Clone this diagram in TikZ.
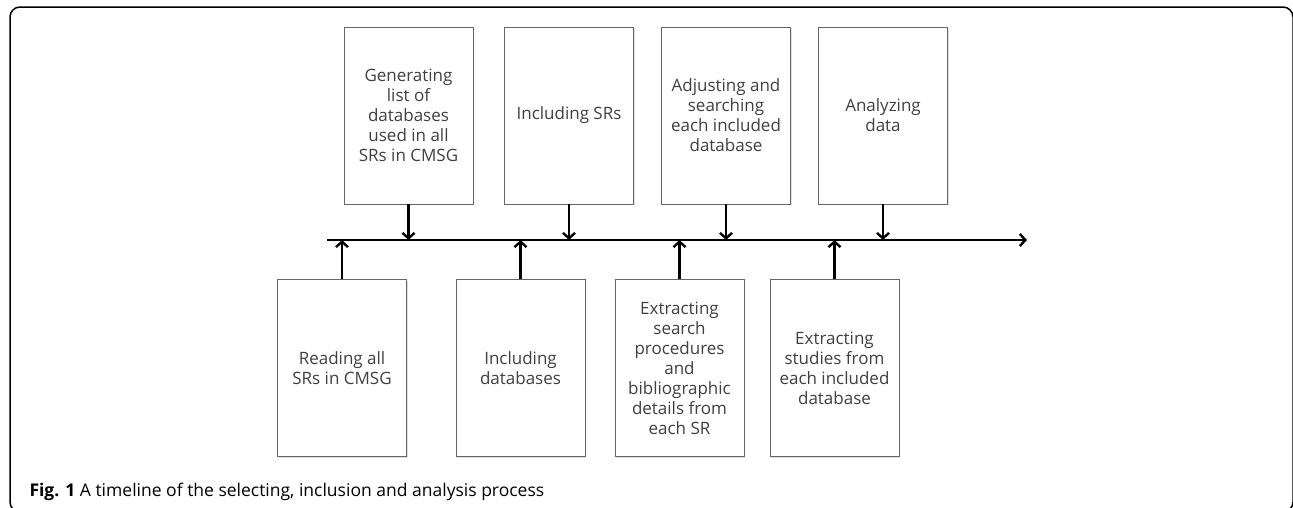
\documentclass[tikz,border=0pt]{standalone}
\usepackage{fontspec}
\setmainfont{Open Sans}
\usetikzlibrary{arrows.meta,shadows}
\tikzset{>={Straight Barb[length=5.5pt,width=12pt]}}
\tikzset{
  stage/.style={draw=black!60, fill=white, minimum width=129pt, minimum height=177pt,
    align=center, text=black!75, font=\fontsize{17}{20}\selectfont,
    drop shadow={opacity=0.25, shadow xshift=1pt, shadow yshift=-1pt}},
  tick/.style={->, line width=2.4pt}
}

\begin{document}
\begin{tikzpicture}[x=1pt,y=-1pt]
  \useasboundingbox (0,0) rectangle (1293,507);
  \clip (0,0) rectangle (1293,507);
  \draw[line width=1.5pt, rounded corners=10pt] (10,7) rectangle (1293,512);
  % the time line
  \coordinate (t0) at (327,240);
  \coordinate (t1) at (1027,240);
  \draw[tick] (t0) -- (t1);
  % steps above the line
  \node[stage] (gen) at (408.5,115.5) {Generating\\list of\\databases\\used in all\\SRs in CMSG};
  \node[stage] (incsr) at (569,115.5) {Including SRs};
  \node[stage] (adj) at (726,115.5) {Adjusting and\\searching\\each included\\database};
  \node[stage] (ana) at (883,115.5) {Analyzing\\data};
  % steps below the line
  \node[stage] (read) at (342,368) {Reading all\\SRs in CMSG};
  \node[stage] (incdb) at (520.5,368) {Including\\databases};
  \node[stage] (extsr) at (679.5,368) {Extracting\\search\\procedures\\and\\bibliographic\\details from\\each SR};
  \node[stage] (extst) at (834.5,368) {Extracting\\studies from\\each included\\database};
  \draw[tick] (gen) -- (gen |- t0);
  \draw[tick] (incsr) -- (incsr |- t0);
  \draw[tick] (adj) -- (adj |- t0);
  \draw[tick] (ana) -- (ana |- t0);
  \draw[tick] (read) -- (read |- t0);
  \draw[tick] (incdb) -- (incdb |- t0);
  \draw[tick] (extsr) -- (extsr |- t0);
  \draw[tick] (extst) -- (extst |- t0);
  \node[anchor=base west, font=\fontsize{17.5}{20}\selectfont] (cap) at (26,496)
    {\textbf{Fig. 1} A timeline of the selecting, inclusion and analysis process};
\end{tikzpicture}
\end{document}
